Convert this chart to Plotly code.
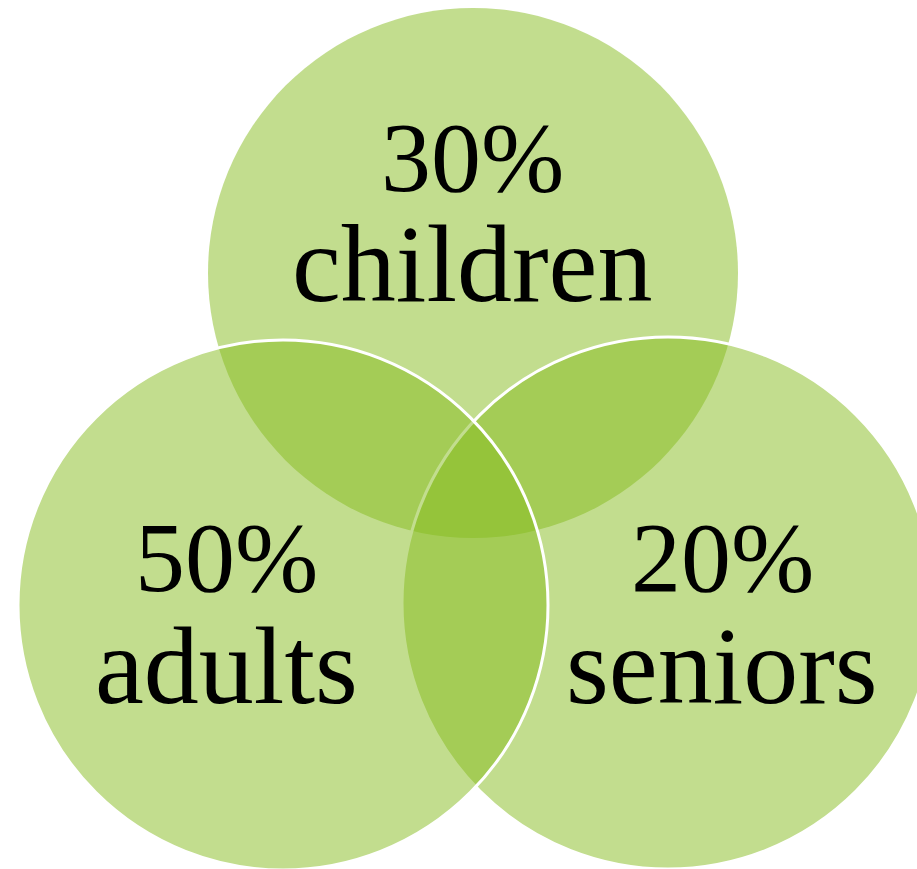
import plotly.graph_objects as go

# Share of visitors by age group
groups = ["children", "adults", "seniors"]
shares = [30, 50, 20]

# Layout geometry (pixel space, y grows downward)
W, H = 917, 869
circles = {
    "children": dict(cx=473, cy=273, r=265, outline=False),
    "seniors": dict(cx=668, cy=603, r=266, outline=True),
    "adults": dict(cx=283, cy=605, r=265, outline=True),
}
label_pos = {
    "children": (472, 193, 303),
    "adults": (226, 593, 705),
    "seniors": (722, 593, 705),
}

FILL = "rgba(134,188,30,0.5)"
FONT = "Liberation Serif"
PCT_SIZE = 100
NAME_SIZE = 110

fig = go.Figure()
fig.add_trace(go.Scatter(x=[0, W], y=[0, H], mode="markers",
                         marker=dict(opacity=0), hoverinfo="skip",
                         showlegend=False))

# draw order: top circle, then right, then left
for name in ["children", "seniors", "adults"]:
    c = circles[name]
    fig.add_shape(
        type="circle", xref="x", yref="y",
        x0=c["cx"] - c["r"], x1=c["cx"] + c["r"],
        y0=c["cy"] - c["r"], y1=c["cy"] + c["r"],
        fillcolor=FILL,
        line=dict(color="white", width=3 if c["outline"] else 0),
        layer="above",
    )

for g, s in zip(groups, shares):
    x, b1, b2 = label_pos[g]
    for txt, base, size in ((f"{s}%", b1, PCT_SIZE), (g, b2, NAME_SIZE)):
        fig.add_annotation(x=x, y=base, xref="x", yref="y",
                           text=txt, showarrow=False,
                           xanchor="center", yanchor="bottom",
                           yshift=-0.216 * size,
                           font=dict(family=FONT, size=size, color="black"))

fig.update_xaxes(range=[0, W], visible=False, fixedrange=True)
fig.update_yaxes(range=[H, 0], visible=False, fixedrange=True)
fig.update_layout(width=W, height=H, margin=dict(l=0, r=0, t=0, b=0),
                  paper_bgcolor="white", plot_bgcolor="white",
                  showlegend=False)

fig.write_html("out.html", config={"displayModeBar": False})
